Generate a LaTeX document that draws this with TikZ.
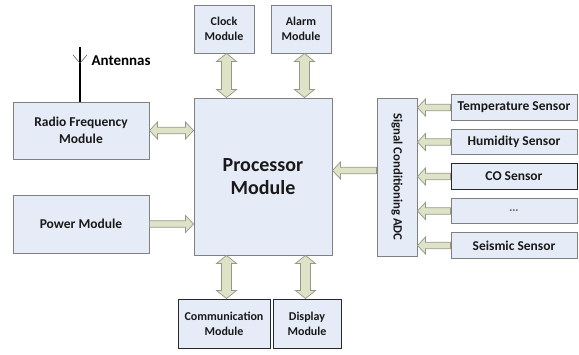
\documentclass[tikz,border=0pt]{standalone}
\usepackage{fontspec}
\setmainfont{Carlito}
\usetikzlibrary{calc}
\definecolor{boxfill}{RGB}{230,236,247}
\definecolor{boxline}{RGB}{128,128,128}
\definecolor{darkline}{RGB}{40,40,40}
\definecolor{arrfill}{RGB}{222,227,200}
\definecolor{arrline}{RGB}{148,152,132}

% fat arrow with one head: tail, tip, half shaft, half head
\newcommand{\fatsingle}[4]{%
	\coordinate (hb) at ($(#2)!8pt!(#1)$);
	\filldraw[fat] ($(#1)!#3!90:(#2)$) -- ($(hb)!#3!90:(#2)$) -- ($(hb)!#4!90:(#2)$) -- (#2)
		-- ($(hb)!#4!-90:(#2)$) -- ($(hb)!#3!-90:(#2)$) -- ($(#1)!#3!-90:(#2)$) -- cycle;
}
% fat arrow with two heads
\newcommand{\fatdouble}[4]{%
	\coordinate (ha) at ($(#1)!8pt!(#2)$);
	\coordinate (hb) at ($(#2)!8pt!(#1)$);
	\filldraw[fat] (#1) -- ($(ha)!#4!90:(#2)$) -- ($(ha)!#3!90:(#2)$) -- ($(hb)!#3!90:(#2)$)
		-- ($(hb)!#4!90:(#2)$) -- (#2) -- ($(hb)!#4!-90:(#2)$) -- ($(hb)!#3!-90:(#2)$)
		-- ($(ha)!#3!-90:(#2)$) -- ($(ha)!#4!-90:(#2)$) -- cycle;
}

\tikzset{
	box/.style={draw=boxline, fill=boxfill, line width=0.9pt, inner sep=0pt, align=center,
		font=\bfseries\fontsize{13.5}{16.5}\selectfont, text=black!90},
	smallbox/.style={box, font=\bfseries\fontsize{12}{15}\selectfont},
	fat/.style={draw=arrline, fill=arrfill, line width=0.7pt, line join=miter}
}

\begin{document}
\begin{tikzpicture}[x=1pt, y=-1pt]
	\useasboundingbox (0,0) rectangle (579,354);

	% left side
	\node[box, minimum width=136, minimum height=57] (rf) at (81,130.5) {Radio Frequency\\Module};
	\node[box, minimum width=136, minimum height=58] (power) at (81,224) {Power Module};

	% antenna
	\coordinate (anttop) at (80,47);
	\draw [line width=1.4pt] (rf.north -| anttop) -- (anttop);
	\draw [line width=0.5pt, black!70] (73,55) -- (80,63) -- (87,55);
	\node [right, font=\bfseries\fontsize{15}{18}\selectfont] (anttext) at (88,61) {Antennas};

	% processor and the modules around it
	\node[box, minimum width=138, minimum height=157, font=\bfseries\fontsize{20}{23}\selectfont] (proc) at (263,176.5) {Processor\\Module};
	\node[smallbox, minimum width=60, minimum height=48] (clock) at (224,29) {Clock\\Module};
	\node[smallbox, minimum width=60, minimum height=48] (alarm) at (301,29) {Alarm\\Module};
	\node[smallbox, draw=darkline, minimum width=92, minimum height=49] (comm) at (224,323.5) {Communication\\Module};
	\node[smallbox, draw=darkline, minimum width=68, minimum height=49] (disp) at (307,323.5) {Display\\Module};

	% signal conditioning and sensors
	\node[box, minimum width=40, minimum height=158] (adc) at (397,177) {};
	\node[rotate=-90, font=\bfseries\fontsize{12.7}{15}\selectfont, text=black!90] (adctext) at (adc) {Signal Conditioning ADC};
	\foreach \name/\txt/\col [count=\i from 0] in {temp/Temperature Sensor/boxline, hum/Humidity Sensor/boxline,
		co/CO Sensor/darkline, dots/{\textcolor{black!55}{\dots}}/boxline, seis/Seismic Sensor/boxline}{
		\node[box, draw=\col, minimum width=126, minimum height=25.5] (\name) at (514,{107.5+34.5*\i}) {\txt};
		\coordinate (\name in) at (\name.west -| adc.east);
		\fatsingle{\name.west}{\name in}{3.2pt}{8.5pt}
	}

	% horizontal arrows
	\coordinate (rfin) at (rf.east -| proc.west);
	\fatdouble{rf.east}{rfin}{3.2pt}{8.5pt}
	\coordinate (powin) at (power.east -| proc.west);
	\fatsingle{power.east}{powin}{3.2pt}{8.5pt}
	\coordinate (adcout) at ($(adc.west)+(0,-6.5)$);
	\coordinate (procin) at (adcout -| proc.east);
	\fatsingle{adcout}{procin}{3.2pt}{8.5pt}

	% vertical arrows
	\coordinate (pc) at ($(proc.north west)+(33,0)$);
	\coordinate (pa) at ($(proc.north east)+(-28,0)$);
	\coordinate (pm) at ($(proc.south west)+(33,0)$);
	\coordinate (pd) at ($(proc.south east)+(-27,0)$);
	\coordinate (cb) at (pc |- clock.south);
	\coordinate (ab) at (pa |- alarm.south);
	\coordinate (mt) at (pm |- comm.north);
	\coordinate (dt) at (pd |- disp.north);
	\fatdouble{cb}{pc}{5pt}{10pt}
	\fatdouble{ab}{pa}{5pt}{10pt}
	\fatdouble{pm}{mt}{5pt}{10pt}
	\fatdouble{pd}{dt}{5pt}{10pt}
\end{tikzpicture}
\end{document}
